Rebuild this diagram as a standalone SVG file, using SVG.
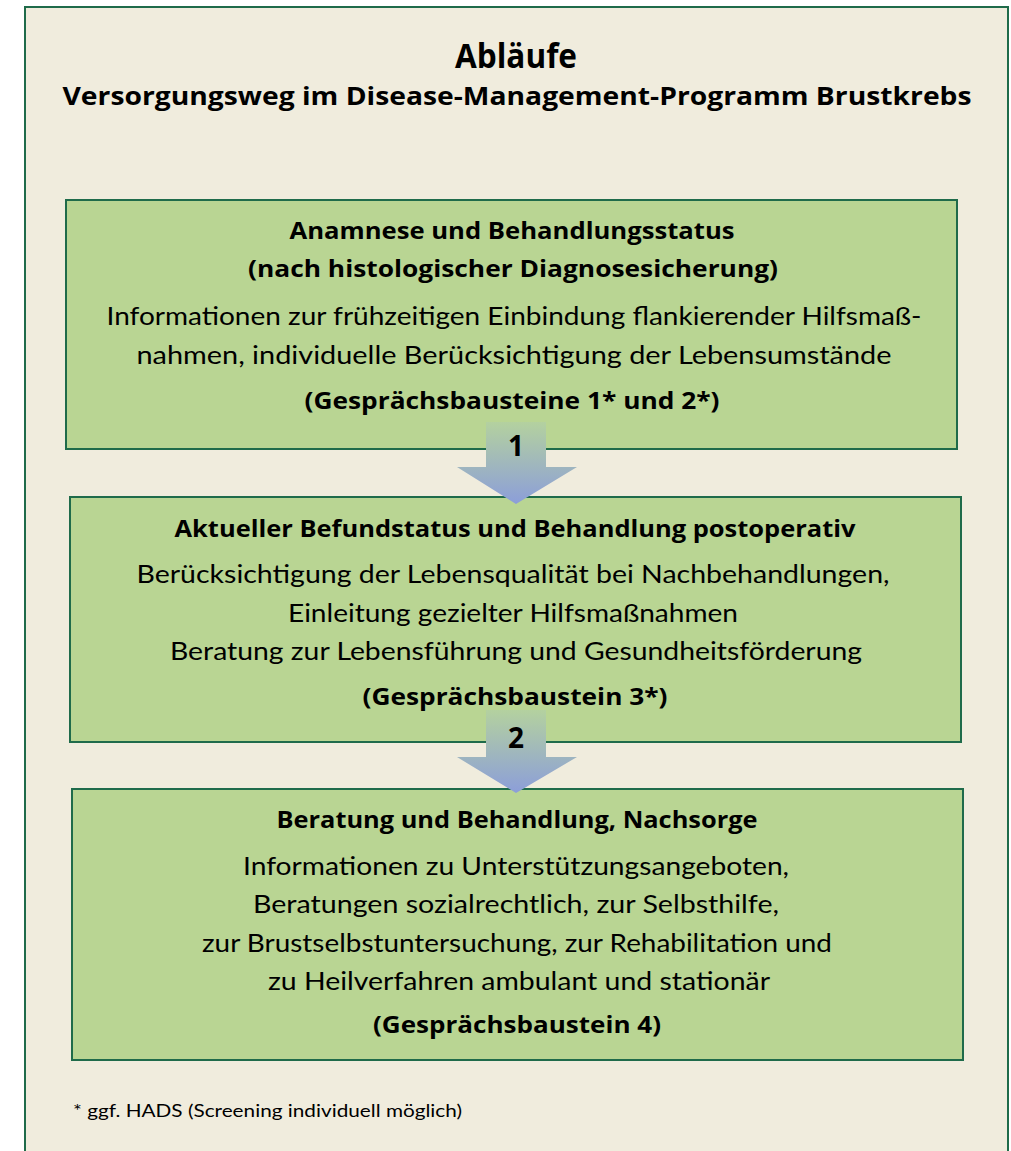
<svg xmlns="http://www.w3.org/2000/svg" width="1011" height="1151" viewBox="0 0 1011 1151">
<defs>
<linearGradient id="arrowGrad" x1="0" y1="0" x2="0" y2="1">
<stop offset="0" stop-color="#b4d19f"/>
<stop offset="1" stop-color="#8c9ed9"/>
</linearGradient>
<style>
.frame{fill:#f0ecdd;stroke:#1f6b4a;stroke-width:2}
.box{fill:#b9d593;stroke:#1f6b4a;stroke-width:2}
.arrow{fill:url(#arrowGrad);stroke:none}
text{fill:#000;text-anchor:middle}
.title{font-family:"Open Sans","Liberation Sans",sans-serif;font-weight:700;font-size:34px}
.sub{font-family:"Open Sans","Liberation Sans",sans-serif;font-weight:700;font-size:25px}
.head{font-family:"Open Sans","Liberation Sans",sans-serif;font-weight:700;font-size:23px}
.body{font-family:Lato,"Liberation Sans",sans-serif;font-weight:400;font-size:25px}
.num{font-family:"Open Sans","Liberation Sans",sans-serif;font-weight:700;font-size:28px}
.note{font-family:Lato,"Liberation Sans",sans-serif;font-weight:400;font-size:18px;text-anchor:start}
</style>
</defs>
<rect x="0" y="0" width="1011" height="1151" fill="#ffffff"/>
<rect class="frame" x="25" y="7" width="983" height="1160"/>
<g id="title">
<text class="title" x="516" y="68" textLength="122" lengthAdjust="spacingAndGlyphs">Abläufe</text>
<text class="sub" x="517" y="105" textLength="909" lengthAdjust="spacingAndGlyphs">Versorgungsweg im Disease-Management-Programm Brustkrebs</text>
</g>
<g id="node1">
<rect class="box" x="66" y="200" width="891" height="249"/>
<text class="head" x="512" y="239" textLength="445" lengthAdjust="spacingAndGlyphs">Anamnese und Behandlungsstatus</text>
<text class="head" x="513" y="277" textLength="530" lengthAdjust="spacingAndGlyphs">(nach histologischer Diagnosesicherung)</text>
<text class="body" x="514" y="325" textLength="815" lengthAdjust="spacingAndGlyphs">Informationen zur frühzeitigen Einbindung flankierender Hilfsmaß-</text>
<text class="body" x="514" y="364" textLength="755" lengthAdjust="spacingAndGlyphs">nahmen, individuelle Berücksichtigung der Lebensumstände</text>
<text class="head" x="512" y="409" textLength="415" lengthAdjust="spacingAndGlyphs">(Gesprächsbausteine 1* und 2*)</text>
</g>
<g id="node2">
<rect class="box" x="70" y="497" width="891" height="245"/>
<text class="head" x="515" y="537" textLength="681" lengthAdjust="spacingAndGlyphs">Aktueller Befundstatus und Behandlung postoperativ</text>
<text class="body" x="513" y="583" textLength="753" lengthAdjust="spacingAndGlyphs">Berücksichtigung der Lebensqualität bei Nachbehandlungen,</text>
<text class="body" x="513" y="622" textLength="450" lengthAdjust="spacingAndGlyphs">Einleitung gezielter Hilfsmaßnahmen</text>
<text class="body" x="516" y="660" textLength="692" lengthAdjust="spacingAndGlyphs">Beratung zur Lebensführung und Gesundheitsförderung</text>
<text class="head" x="515" y="705" textLength="305" lengthAdjust="spacingAndGlyphs">(Gesprächsbaustein 3*)</text>
</g>
<g id="node3">
<rect class="box" x="72" y="789" width="891" height="271"/>
<text class="head" x="517" y="828" textLength="481" lengthAdjust="spacingAndGlyphs">Beratung und Behandlung, Nachsorge</text>
<text class="body" x="516" y="875" textLength="546" lengthAdjust="spacingAndGlyphs">Informationen zu Unterstützungsangeboten,</text>
<text class="body" x="516" y="913" textLength="526" lengthAdjust="spacingAndGlyphs">Beratungen sozialrechtlich, zur Selbsthilfe,</text>
<text class="body" x="517" y="952" textLength="630" lengthAdjust="spacingAndGlyphs">zur Brustselbstuntersuchung, zur Rehabilitation und</text>
<text class="body" x="519" y="990" textLength="502" lengthAdjust="spacingAndGlyphs">zu Heilverfahren ambulant und stationär</text>
<text class="head" x="517" y="1033" textLength="288" lengthAdjust="spacingAndGlyphs">(Gesprächsbaustein 4)</text>
</g>
<g id="connectors">
<g id="arrow1">
<polygon class="arrow" points="486,422 546,422 546,467 577,467 516,504 457,467 486,467"/>
<text class="num" x="516" y="456">1</text>
</g>
<g id="arrow2">
<polygon class="arrow" points="486,710 546,710 546,757 577,757 516,793 457,757 486,757"/>
<text class="num" x="516" y="748">2</text>
</g>
</g>
<g id="footnote">
<text class="note" x="73" y="1117" textLength="389" lengthAdjust="spacingAndGlyphs">* ggf. HADS (Screening individuell möglich)</text>
</g>
</svg>
